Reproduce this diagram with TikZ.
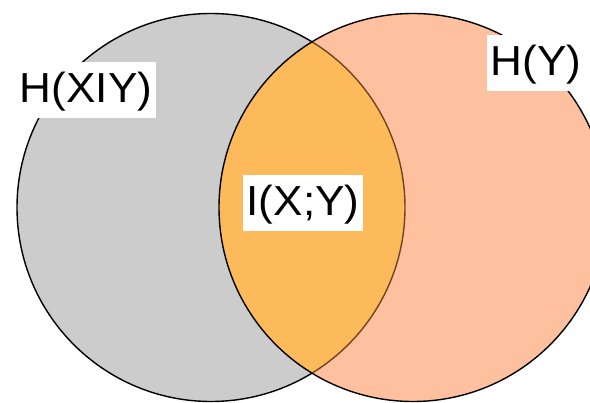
\documentclass[tikz,border=0pt]{standalone}
\usepackage{fontspec}
\setmainfont{Liberation Sans}
\definecolor{cgray}{RGB}{204,204,204}
\definecolor{csalmon}{RGB}{255,192,160}
\definecolor{clens}{RGB}{253,186,90}
\definecolor{cbrown}{RGB}{110,70,30}
\newcommand{\wide}[1]{\scalebox{1.05}[1]{#1}}
\tikzset{
  lbl/.style={fill=white, font=\fontsize{42}{48}\selectfont, inner xsep=4pt, inner ysep=0pt, minimum height=56pt, text height=33pt, text depth=8pt},
  ring/.style={line width=1.4pt}
}
\begin{document}
\begin{tikzpicture}[x=1pt,y=-1pt]
\useasboundingbox (0,0) rectangle (590,403);
\clip (0,0) rectangle (590,403);
\coordinate (cl) at (211,207.5);
\coordinate (cr) at (413,207.5);
\fill[cgray] (cl) circle[radius=194];
\fill[csalmon] (cr) circle[radius=194];
\begin{scope}
  \clip (cl) circle[radius=194];
  \fill[clens] (cr) circle[radius=194];
\end{scope}
\begin{scope}[even odd rule]
  \clip (-10,-10) rectangle (600,420) (cr) circle[radius=194];
  \draw[ring] (cl) circle[radius=194];
\end{scope}
\begin{scope}
  \clip (cr) circle[radius=194];
  \draw[ring, cbrown] (cl) circle[radius=194];
\end{scope}
\draw[ring] (cr) circle[radius=194];
\node[lbl] (hxy) at (86,90.5) {\wide{H(XIY)}};
\node[lbl] (hy) at (536,63.5) {\wide{H(Y)}};
\node[lbl] (ixy) at (303,203) {\wide{I(X;Y)}};
\end{tikzpicture}
\end{document}
